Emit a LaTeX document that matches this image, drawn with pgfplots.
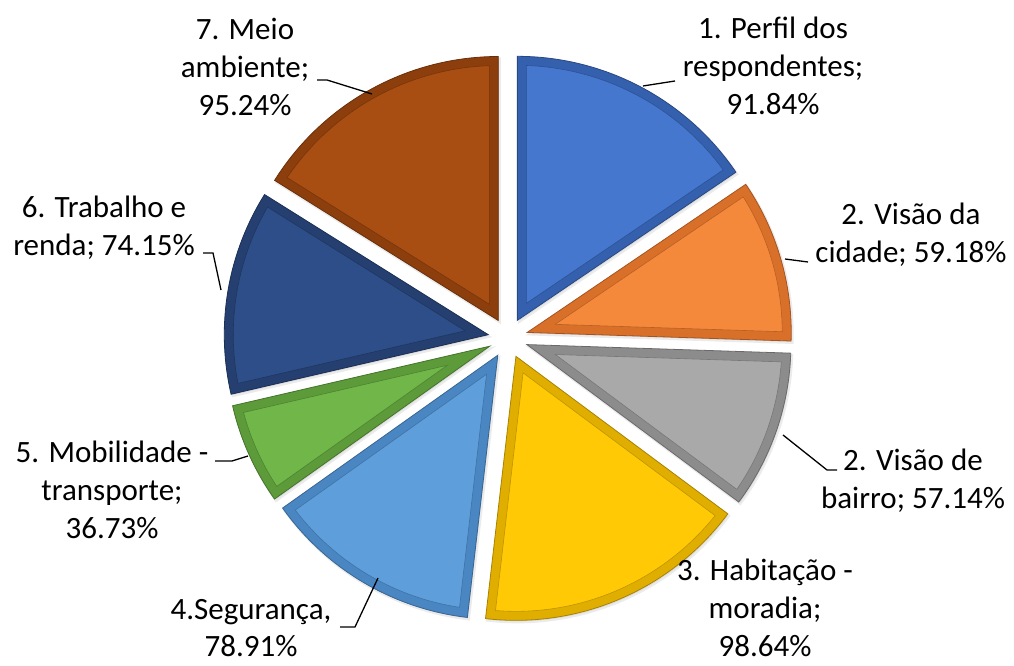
\documentclass[border=0pt]{standalone}
\usepackage{pgfplots}
\usepackage{pgfplotstable}
\pgfplotsset{compat=1.18}
\usepackage{fontspec}
\setmainfont{Carlito}

\pgfplotstableread{
v
91.84
59.18
57.14
98.64
78.91
36.73
74.15
95.24
}\piedata

% total and cumulative angles (clockwise from 12 o'clock)
\gdef\tot{0}
\foreach \i in {0,...,7}{%
  \pgfplotstablegetelem{\i}{v}\of\piedata
  \pgfmathsetmacro\tmp{\tot+\pgfplotsretval}%
  \global\let\tot\tmp
}
\expandafter\xdef\csname ang0\endcsname{90}
\foreach \i in {0,...,7}{%
  \pgfplotstablegetelem{\i}{v}\of\piedata
  \pgfmathsetmacro\cur{\csname ang\i\endcsname - (\pgfplotsretval/\tot)*360}%
  \pgfmathtruncatemacro\j{\i+1}%
  \expandafter\xdef\csname ang\j\endcsname{\cur}%
}
\newcommand\A[1]{\csname ang#1\endcsname}

\definecolor{c1}{HTML}{4677CF}\definecolor{r1}{HTML}{3560AE}
\definecolor{c2}{HTML}{F5893B}\definecolor{r2}{HTML}{D9702A}
\definecolor{c3}{HTML}{A9A9A9}\definecolor{r3}{HTML}{8C8C8C}
\definecolor{c4}{HTML}{FFCA05}\definecolor{r4}{HTML}{E0AE00}
\definecolor{c5}{HTML}{5E9FDB}\definecolor{r5}{HTML}{4A86C2}
\definecolor{c6}{HTML}{71B649}\definecolor{r6}{HTML}{5C9A3A}
\definecolor{c7}{HTML}{2D4E88}\definecolor{r7}{HTML}{243F70}
\definecolor{c8}{HTML}{A94E13}\definecolor{r8}{HTML}{8C3E0C}

\tikzset{lbl/.style={align=center, inner sep=0pt, font=\fontsize{31bp}{37.8bp}\selectfont}}

\def\R{264}\def\cx{508}\def\cy{328}\def\dd{20}\def\tb{9}

\newcommand\slice[4]{% #1 start angle, #2 end angle (#2<#1), #3 face colour, #4 rim colour
  \pgfmathsetmacro\mid{(#1+#2)/2}%
  \pgfmathsetmacro\ax{\cx+\dd*cos(\mid)}%
  \pgfmathsetmacro\ay{\cy+\dd*sin(\mid)}%
  \pgfmathsetmacro\sx{\ax+1.5}%
  \pgfmathsetmacro\sy{\ay-2}%
  \pgfmathsetmacro\half{(#1-#2)/2}%
  \pgfmathsetmacro\off{\tb/sin(\half)}%
  \pgfmathsetmacro\bx{\ax+\off*cos(\mid)}%
  \pgfmathsetmacro\by{\ay+\off*sin(\mid)}%
  \pgfmathsetmacro\dl{asin(\tb/(\R-\tb))}%
  \pgfmathsetmacro\sA{#1-\dl}%
  \pgfmathsetmacro\sB{#2+\dl}%
  \pgfmathsetmacro\Ri{\R-\tb}%
  \pgfmathsetmacro\sa{#1}\pgfmathsetmacro\sb{#2}%
  \edef\doit{%
    \noexpand\addplot[fill=black!14, draw=black!8, line width=2pt, domain=\sb:\sa, samples=90, variable=\noexpand\t]
      ({\sx+\R*cos(\noexpand\t)},{\sy+\R*sin(\noexpand\t)}) -- (axis cs:\sx,\sy) -- cycle;
    \noexpand\addplot[fill=#4, draw=#4!75!black, line width=0.8pt, domain=\sb:\sa, samples=90, variable=\noexpand\t]
      ({\ax+\R*cos(\noexpand\t)},{\ay+\R*sin(\noexpand\t)}) -- (axis cs:\ax,\ay) -- cycle;
    \noexpand\addplot[fill=#3, draw=#4!85!black, line width=0.6pt, domain=\sB:\sA, samples=90, variable=\noexpand\t]
      ({\ax+\Ri*cos(\noexpand\t)},{\ay+\Ri*sin(\noexpand\t)}) -- (axis cs:\bx,\by) -- cycle;
  }\doit
}

\begin{document}
\begin{tikzpicture}
\begin{axis}[x=1bp,y=1bp,xmin=0,xmax=1014,ymin=0,ymax=666,
  scale only axis, hide axis, clip=false, no markers,
  ]
\slice{\A0}{\A1}{c1}{r1}
\slice{\A1}{\A2}{c2}{r2}
\slice{\A2}{\A3}{c3}{r3}
\slice{\A3}{\A4}{c4}{r4}
\slice{\A4}{\A5}{c5}{r5}
\slice{\A5}{\A6}{c6}{r6}
\slice{\A6}{\A7}{c7}{r7}
\slice{\A7}{\A8}{c8}{r8}

\draw[black, line width=1.3pt] (axis cs:643,580)--(axis cs:675,585);
\draw[black, line width=1.3pt] (axis cs:785,407)--(axis cs:808,404);
\draw[black, line width=1.3pt] (axis cs:783,231)--(axis cs:827,196)--(axis cs:837,196);
\draw[black, line width=1.3pt] (axis cs:340,39)--(axis cs:355,39)--(axis cs:378,88);
\draw[black, line width=1.3pt] (axis cs:215,205)--(axis cs:232,205)--(axis cs:248,210);
\draw[black, line width=1.3pt] (axis cs:203,413)--(axis cs:213,413)--(axis cs:221,376);
\draw[black, line width=1.3pt] (axis cs:317,586)--(axis cs:327,586)--(axis cs:372,572);

\node[lbl] at (axis cs:773,600) {1. Perfil dos\\respondentes;\\91.84\%};
\node[lbl] at (axis cs:911,431) {2. Visão da\\cidade; 59.18\%};
\node[lbl] at (axis cs:913,185) {2. Visão de\\bairro; 57.14\%};
\node[lbl] at (axis cs:765,58) {3. Habitação -\\moradia;\\98.64\%};
\node[lbl] at (axis cs:251,38) {4.Segurança,\\78.91\%};
\node[lbl] at (axis cs:112,176) {5. Mobilidade -\\transporte;\\36.73\%};
\node[lbl] at (axis cs:104,438) {6. Trabalho e\\renda; 74.15\%};
\node[lbl] at (axis cs:245,599) {7. Meio\\ambiente;\\95.24\%};
\end{axis}
\pgfresetboundingbox
\path (current axis.south west) rectangle (current axis.north east);
\end{tikzpicture}
\end{document}
